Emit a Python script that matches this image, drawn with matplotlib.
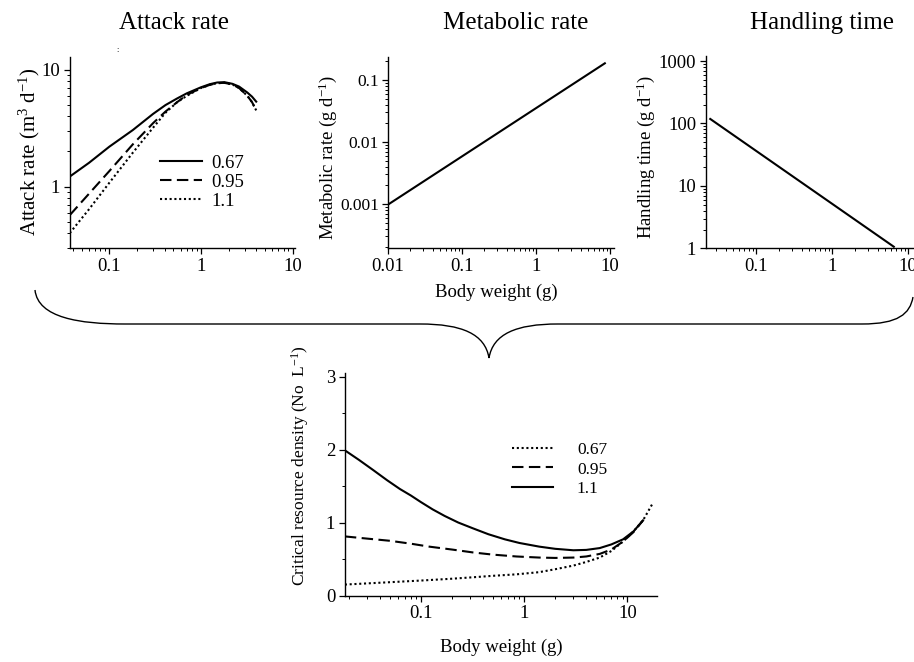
import matplotlib
matplotlib.use("Agg")
import matplotlib.pyplot as plt
from matplotlib.ticker import LogLocator, NullFormatter, FixedLocator, MultipleLocator
from matplotlib.path import Path
from matplotlib.patches import PathPatch

plt.rcParams['font.family'] = ['Liberation Serif', 'DejaVu Serif']
plt.rcParams['mathtext.fontset'] = 'custom'
plt.rcParams['mathtext.rm'] = 'Liberation Serif'
plt.rcParams['mathtext.it'] = 'Liberation Serif:italic'

# ---------------- data ----------------
# Attack rate panel
attack_x = [0.037, 0.06, 0.1, 0.18, 0.3, 0.41, 0.55, 0.7, 1.0, 1.25, 1.5, 1.8, 2.2, 2.6, 3.2, 3.6, 4.0]
attack_067 = [1.22, 1.6, 2.2, 3.05, 4.2, 5.0, 5.7, 6.3, 7.1, 7.55, 7.8, 7.85, 7.6, 7.2, 6.4, 5.9, 5.35]
attack_095 = [0.57, 0.87, 1.36, 2.3, 3.5, 4.4, 5.3, 6.1, 7.0, 7.45, 7.7, 7.75, 7.5, 7.0, 6.0, 5.3, 4.5]
attack_110 = [0.40, 0.64, 1.08, 1.95, 3.2, 4.3, 5.3, 6.0, 7.0, 7.45, 7.7, 7.75, 7.5, 7.0, 6.0, 5.3, 4.5]
attack_labels = ["0.67", "0.95", "1.1"]

# Metabolic rate panel
metab_x = [0.0103, 8.5]
metab_y = [0.001, 0.186]

# Handling time panel
handl_x = [0.025, 6.5]
handl_y = [118.0, 1.06]

# Critical resource density panel
crd_x_110 = [0.0183, 0.025, 0.0344, 0.047, 0.0625, 0.08, 0.1, 0.13, 0.17, 0.23, 0.32, 0.45,
             0.65, 0.9, 1.4, 2.0, 3.0, 4.0, 5.4, 7.0, 9.1, 11.5, 14.2]
crd_110 = [1.99, 1.86, 1.72, 1.58, 1.46, 1.37, 1.28, 1.18, 1.09, 1.00, 0.92, 0.84,
           0.77, 0.72, 0.67, 0.64, 0.62, 0.625, 0.65, 0.70, 0.77, 0.88, 1.03]
crd_x_095 = [0.0183, 0.03, 0.05, 0.08, 0.12, 0.2, 0.32, 0.5, 0.84, 1.4, 2.0, 3.0, 4.0,
             5.4, 7.0, 9.1, 11.5, 14.2]
crd_095 = [0.81, 0.78, 0.75, 0.71, 0.67, 0.63, 0.59, 0.56, 0.535, 0.52, 0.515, 0.52, 0.535,
           0.57, 0.63, 0.74, 0.87, 1.03]
crd_x_067 = [0.0183, 0.04, 0.1, 0.2, 0.32, 0.5, 0.84, 1.4, 2.0, 3.0, 4.0, 5.4, 7.0, 9.1,
             11.5, 14.2, 17.4]
crd_067 = [0.15, 0.175, 0.205, 0.23, 0.25, 0.27, 0.29, 0.32, 0.36, 0.41, 0.46, 0.52, 0.61,
           0.74, 0.88, 1.03, 1.25]
crd_labels = ["0.67", "0.95", "1.1"]

titles = ["Attack rate", "Metabolic rate", "Handling time"]

# ---------------- layout ----------------
W, H = 914, 662
fig = plt.figure(figsize=(W / 100, H / 100), dpi=100)


def rect(l, r, t, b):
    return [l / W, 1 - b / H, (r - l) / W, (b - t) / H]


ax1 = fig.add_axes(rect(70, 295, 57, 248))
ax2 = fig.add_axes(rect(388, 614, 57, 248))
ax3 = fig.add_axes(rect(706, 916, 56, 248.3))
ax4 = fig.add_axes(rect(345, 657, 373, 595.5))

TICK = 13.5
LAB = 13.5
SOLID = '-'
DASH = (0, (5.5, 2.6))
DOT = (0, (1, 1.3))
LW = 1.5

for ax in (ax1, ax2, ax3, ax4):
    for s in ('top', 'right'):
        ax.spines[s].set_visible(False)
    ax.spines['left'].set_linewidth(1.0)
    ax.spines['bottom'].set_linewidth(1.0)
    ax.tick_params(which='major', direction='out', length=4, width=0.9, labelsize=TICK, pad=3)
    ax.tick_params(which='minor', direction='out', length=2.2, width=0.7)


def log_axes(ax, axis, ticks, labels):
    a = ax.xaxis if axis == 'x' else ax.yaxis
    if axis == 'x':
        ax.set_xscale('log')
    else:
        ax.set_yscale('log')
    a.set_major_locator(FixedLocator(ticks))
    a.set_ticklabels(labels)
    a.set_minor_locator(LogLocator(base=10, subs=range(2, 10), numticks=50))
    a.set_minor_formatter(NullFormatter())


# Panel 1: attack rate
ax1.plot(attack_x, attack_067, color='black', lw=LW, ls=SOLID, label=attack_labels[0])
ax1.plot(attack_x, attack_095, color='black', lw=LW, ls=DASH, label=attack_labels[1])
ax1.plot(attack_x, attack_110, color='black', lw=LW, ls=DOT, label=attack_labels[2])
log_axes(ax1, 'x', [0.1, 1, 10], ["0.1", "1", "10"])
log_axes(ax1, 'y', [1, 10], ["1", "10"])
ax1.set_xlim(0.0372, 10.6)
ax1.set_ylim(0.298, 12.9)
ax1.set_ylabel("Attack rate (m$^{3}$ d$^{-1}$)", fontsize=15)
ax1.yaxis.set_label_coords((42 - 70) / 225, (248 - 152) / 191)
leg1 = ax1.legend(loc='center left', bbox_to_anchor=(160 / W, 1 - 182 / H),
                  bbox_transform=fig.transFigure, frameon=False, fontsize=13.5,
                  handlelength=2.24, handletextpad=0.48, labelspacing=0.1,
                  borderpad=0, borderaxespad=0)

# Panel 2: metabolic rate
ax2.plot(metab_x, metab_y, color='black', lw=LW)
log_axes(ax2, 'x', [0.01, 0.1, 1, 10], ["0.01", "0.1", "1", "10"])
log_axes(ax2, 'y', [0.001, 0.01, 0.1], ["0.001", "0.01", "0.1"])
ax2.tick_params(axis='y', which='major', labelsize=12.5, pad=2.5)
ax2.set_xlim(0.01, 11.3)
ax2.set_ylim(1.95e-4, 0.235)
ax2.set_ylabel("Metabolic rate (g d$^{-1}$)", fontsize=LAB)
ax2.yaxis.set_label_coords((339 - 388) / 226, (248 - 157) / 191)

# Panel 3: handling time
ax3.plot(handl_x, handl_y, color='black', lw=LW)
log_axes(ax3, 'x', [0.1, 1, 10], ["0.1", "1", "10"])
log_axes(ax3, 'y', [1, 10, 100, 1000], ["1", "10", "100", "1000"])
ax3.set_xlim(10 ** -1.658, 10 ** 1.105)
ax3.set_ylim(1, 1203)
ax3.set_ylabel("Handling time (g d$^{-1}$)", fontsize=LAB)
ax3.yaxis.set_label_coords((657 - 706) / 210, (248.3 - 156.5) / 192.3)

# Panel 4: critical resource density
ax4.plot(crd_x_067, crd_067, color='black', lw=LW, ls=DOT, label=crd_labels[0])
ax4.plot(crd_x_095, crd_095, color='black', lw=LW, ls=DASH, label=crd_labels[1])
ax4.plot(crd_x_110, crd_110, color='black', lw=LW, ls=SOLID, label=crd_labels[2])
log_axes(ax4, 'x', [0.1, 1, 10], ["0.1", "1", "10"])
ax4.set_yticks([0, 1, 2, 3])
ax4.set_yticklabels(["0", "1", "2", "3"])
ax4.yaxis.set_minor_locator(MultipleLocator(0.5))
ax4.set_xlim(0.01836, 19.4)
ax4.set_ylim(0, 3.05)
ax4.set_ylabel("Critical resource density (No  L$^{-1}$)", fontsize=12.5)
ax4.yaxis.set_label_coords((311 - 345) / 312, (595.5 - 466) / 222.5)
ax4.set_xlabel("Body weight (g)", fontsize=LAB, labelpad=12)
leg4 = ax4.legend(loc='center left', bbox_to_anchor=(512 / W, 1 - 469.5 / H),
                  bbox_transform=fig.transFigure, frameon=False, fontsize=12.5,
                  handlelength=2.36, handletextpad=1.38, labelspacing=0.2,
                  borderpad=0, borderaxespad=0)

# Titles
for txt, cx in zip(titles, [174, 516, 822]):
    fig.text(cx / W, 1 - 23 / H, txt, ha='center', va='center', fontsize=18)

# Shared x label for top row
fig.text(496 / W, 1 - 292 / H, "Body weight (g)", ha='center', va='center', fontsize=LAB)

# small mark
fig.text(118 / W, 1 - 50 / H, ":", ha='center', va='center', fontsize=6)

# Curly brace (figure pixel coordinates -> fraction)
pts = [
    (35, 290), (38, 318), (80, 324), (125, 324),
    (420, 324),
    (462, 324), (485, 334), (489, 358),
    (493, 334), (516, 324), (558, 324),
    (862, 324),
    (898, 324), (910, 314), (913, 297),
]
codes = [Path.MOVETO, Path.CURVE4, Path.CURVE4, Path.CURVE4,
         Path.LINETO,
         Path.CURVE4, Path.CURVE4, Path.CURVE4,
         Path.CURVE4, Path.CURVE4, Path.CURVE4,
         Path.LINETO,
         Path.CURVE4, Path.CURVE4, Path.CURVE4]
verts = [(x / W, 1 - y / H) for x, y in pts]
brace = PathPatch(Path(verts, codes), transform=fig.transFigure, fill=False,
                  edgecolor='black', lw=1.0)
fig.patches.append(brace)

fig.savefig("out.png", dpi=100)
